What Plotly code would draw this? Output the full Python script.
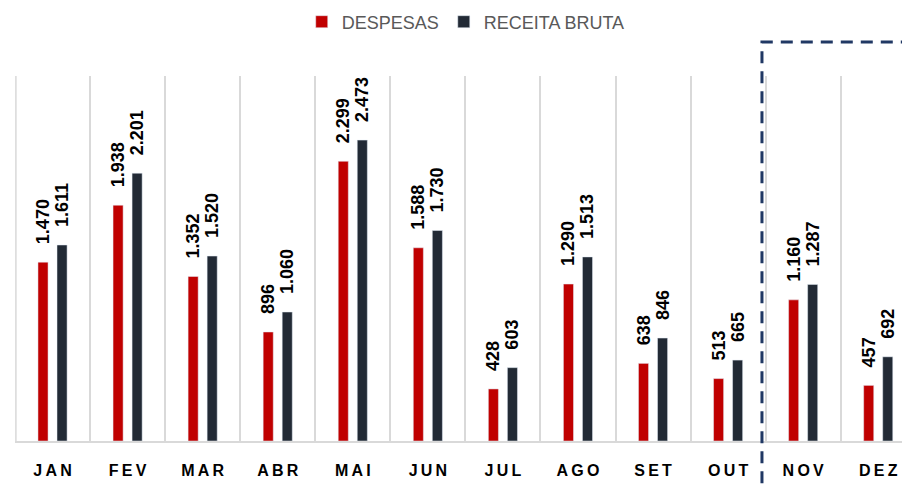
import plotly.graph_objects as go

months = ["JAN", "FEV", "MAR", "ABR", "MAI", "JUN", "JUL", "AGO", "SET", "OUT", "NOV", "DEZ"]
despesas = [1470, 1938, 1352, 896, 2299, 1588, 428, 1290, 638, 513, 1160, 457]
receita = [1611, 2201, 1520, 1060, 2473, 1730, 603, 1513, 846, 665, 1287, 692]

def fmt(v):
    return "\u00a0\u00a0\u00a0" + f"{v:,}".replace(",", ".")

def spaced(s):
    return "\u2009".join(list(s))

xlabels = [spaced(m) for m in months]

label_font = dict(family="Liberation Sans", size=18, color="#000000", weight="bold")

fig = go.Figure()
fig.add_trace(go.Bar(
    x=xlabels, y=despesas, name="DESPESAS", marker_color="#C00000",
    text=[fmt(v) for v in despesas], textposition="outside", textangle=-90,
    textfont=label_font, constraintext="none", cliponaxis=False,
))
fig.add_trace(go.Bar(
    x=xlabels, y=receita, name="RECEITA BRUTA", marker_color="#222A35",
    text=[fmt(v) for v in receita], textposition="outside", textangle=-90,
    textfont=label_font, constraintext="none", cliponaxis=False,
))

fig.update_layout(
    width=910, height=489,
    margin=dict(l=7, r=0, t=68, b=56, autoexpand=False),
    paper_bgcolor="white", plot_bgcolor="white",
    barmode="group", bargap=0.493, bargroupgap=0.47,
    legend=dict(
        orientation="h", x=0.503, xanchor="center",
        xref="container", yref="container", y=1 - 14 / 489, yanchor="middle",
        font=dict(family="Liberation Sans", size=18, color="#595959"),
        traceorder="normal",
    ),
    showlegend=True,
    xaxis=dict(
        type="category", range=[-0.5, 11.53], tickson="boundaries",
        showgrid=True, gridcolor="#D9D9D9", gridwidth=1.5,
        showline=True, linecolor="#D9D9D9", linewidth=1.5,
        ticks="", ticklabelstandoff=14, automargin=False,
        tickfont=dict(family="Liberation Sans", size=16, color="#000000", weight="bold"),
    ),
    yaxis=dict(range=[0, 3000], visible=False, showgrid=False),
    shapes=[
        dict(
            type="line", xref="paper", yref="paper",
            x0=0.001, x1=0.001, y0=0, y1=1,
            line=dict(color="#D9D9D9", width=1.5), layer="below",
        ),
        dict(
            type="rect", xref="paper", yref="paper",
            x0=0.8272, x1=1.05, y0=-0.3, y1=1.093,
            line=dict(color="#203864", width=3, dash="12px,8px"),
            fillcolor="rgba(0,0,0,0)", layer="above",
        ),
    ],
)

fig.write_html("out.html")
